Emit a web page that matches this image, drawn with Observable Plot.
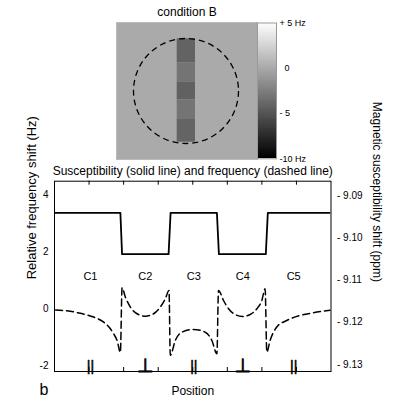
<!DOCTYPE html>
<html><head><meta charset="utf-8">
<script src="https://cdn.jsdelivr.net/npm/d3@7"></script>
<script src="https://cdn.jsdelivr.net/npm/@observablehq/plot@0.6"></script>
<style>
body{margin:0;background:#fff;}
#wrap{position:relative;width:396px;height:398px;overflow:hidden;}
#wrap > div{position:absolute;left:0;}
</style></head><body>
<div id="wrap"><div id="top" style="top:0"></div><div id="cb" style="top:0"></div><div id="bottom" style="top:160px"></div></div>
<script>
// ---------- data: top panel (frequency map, condition B) ----------
const mapTitle = "condition B";
const fovX = [0, 141];            // image extent (image units)
const fovY = [0, 137];
const backgroundHz = [0];
const stripX = [60.7, 79];        // compartment strip
const stripBounds = [16.3, 40.3, 59.7, 77.3, 96.3, 119.7];
const stripHz = [-4.2, -3.2, -4.3, -3.2, -4.1];
const phantomCenterX = [69.5];
const phantomCenterY = [68.5];
const phantomRadius = 52.5;
const colorbarDomain = [-10, 5];
const colorbarTicks = [5, 0, -5, -10];
const colorbarLabels = ["+ 5 Hz", "\u00a0\u00a00", "- 5", "-10 Hz"];

// ---------- data: bottom panel ----------
const chartTitle = "Susceptibility (solid line) and frequency (dashed line)";
const yLabel = "Relative frequency shift (Hz)";
const y2Label = "Magnetic susceptibility shift (ppm)";
const xLabel = "Position";
const panelLetter = "b";
const compartments = ["C1", "C2", "C3", "C4", "C5"];
const compartmentX = [1.04, 2.63, 4.03, 5.45, 6.92];
const orientation = ["||", "\u22A5", "||", "\u22A5", "||"];
const hzTicks = [-2, 0, 2, 4];
const ppmTicks = [-9.09, -9.10, -9.11, -9.12, -9.13];
const positionTicks = [1, 2, 3, 4, 5, 6, 7];

const suscX   = [0.01, 1.906, 1.955, 3.301, 3.359, 4.699, 4.757, 6.114, 6.172, 7.96];
const suscPpm = [-9.0941, -9.0941, -9.1039, -9.1039, -9.0941, -9.0941, -9.1039, -9.1039, -9.0941, -9.0941];

const freqX  = [0.03, 0.46, 0.75, 1.135, 1.424, 1.617, 1.713, 1.811, 1.906,
                1.955, 2.05, 2.195, 2.388, 2.628, 2.868, 3.061, 3.206, 3.313,
                3.35, 3.495, 3.688, 4.023, 4.361, 4.554, 4.699,
                4.745, 4.89, 5.035, 5.228, 5.44, 5.66, 5.855, 5.998, 6.094,
                6.143, 6.238, 6.43, 6.72, 7.105, 7.49, 7.97];
const freqHz = [-0.03, -0.08, -0.15, -0.28, -0.46, -0.69, -0.87, -1.10, -1.52,
                0.745, 0.42, 0.07, -0.165, -0.25, -0.165, 0.07, 0.36, 0.65,
                -1.62, -1.10, -0.81, -0.715, -0.81, -1.10, -1.565,
                0.65, 0.30, 0.01, -0.19, -0.26, -0.19, 0.01, 0.30, 0.71,
                -1.51, -1.10, -0.63, -0.40, -0.22, -0.13, -0.04];

const font = "'Liberation Sans', Arial, sans-serif";
const gray = {type: "linear", domain: colorbarDomain, range: ["#000000", "#ffffff"]};

// right axis alignment: ppm -> Hz coordinates
const toHz = ppm => 3.9755 + (ppm + 9.09) * 147.89;

// ---------- top: map ----------
const topW = 396, topH = 160, topML = 116, topMR = 139;
const pxPerUnit = (topW - topML - topMR) / (fovX[1] - fovX[0]);
const strip = stripHz.map((v, i) => ({x1: stripX[0], x2: stripX[1], y1: stripBounds[i], y2: stripBounds[i + 1], v}));
const topPlot = Plot.plot({
  width: topW, height: topH,
  marginLeft: topML, marginRight: topMR, marginTop: 22, marginBottom: 1,
  x: {domain: fovX, axis: null},
  y: {domain: fovY, reverse: true, axis: null},
  color: gray,
  style: {fontFamily: font, background: "transparent", overflow: "visible"},
  marks: [
    Plot.rect(backgroundHz, {x1: fovX[0], x2: fovX[1], y1: fovY[0], y2: fovY[1], fill: d => d}),
    Plot.rect(strip, {x1: "x1", x2: "x2", y1: "y1", y2: "y2", fill: "v"}),
    Plot.dot(phantomCenterX.map((x, i) => ({x, y: phantomCenterY[i]})),
      {x: "x", y: "y", r: phantomRadius * pxPerUnit, fill: "none", stroke: "#000", strokeWidth: 1.3, strokeDasharray: "6,4"}),
    Plot.frame({stroke: "#bbb"}),
    Plot.text([mapTitle], {frameAnchor: "top", lineAnchor: "middle", dy: -10, fontSize: 12})
  ]
});
document.getElementById("top").append(topPlot);

// ---------- colorbar ----------
const cbSteps = d3.range(colorbarDomain[0], colorbarDomain[1], 0.1);
const cbPlot = Plot.plot({
  width: 396, height: 160,
  marginLeft: 257, marginRight: 120, marginTop: 22.5, marginBottom: 1.7,
  x: {domain: [0, 1], axis: null},
  y: {domain: colorbarDomain, axis: null},
  color: gray,
  style: {fontFamily: font, background: "transparent", overflow: "visible"},
  marks: [
    Plot.rect(cbSteps, {x1: 0, x2: 1, y1: d => d, y2: d => Math.min(d + 0.12, colorbarDomain[1]), fill: d => d, shapeRendering: "crispEdges"}),
    Plot.frame({stroke: "#999"}),
    Plot.text(colorbarTicks, {x: 1, y: d => d, text: (d, i) => colorbarLabels[i], textAnchor: "start", dx: 3, fontSize: 9})
  ]
});
document.getElementById("cb").append(cbPlot);

// ---------- bottom: line chart ----------
const bW = 396, bH = 238, bMT = 20.7, bMB = 27, bML = 54, bMR = 65.5;
const innerH = bH - bMT - bMB;
const susc = suscX.map((x, i) => ({x, y: toHz(suscPpm[i])}));
const freq = freqX.map((x, i) => ({x, y: freqHz[i]}));
const comp = compartments.map((c, i) => ({c, x: compartmentX[i], o: orientation[i]}));
const bottomPlot = Plot.plot({
  width: bW, height: bH,
  marginTop: bMT, marginBottom: bMB, marginLeft: bML, marginRight: bMR,
  x: {domain: [0, 8], axis: null},
  y: {domain: [-2.186, 4.476]},
  style: {fontFamily: font, background: "transparent", overflow: "visible"},
  marks: [
    Plot.frame({stroke: "#000", strokeWidth: 1}),
    Plot.tickX(positionTicks, {x: d => d, insetBottom: innerH - 4, stroke: "#000"}),
    Plot.tickX(positionTicks, {x: d => d, insetTop: innerH - 4, stroke: "#000"}),
    Plot.axisY(hzTicks, {anchor: "left", tickSize: 0, tickPadding: 6, tickFormat: d => String(d), fontSize: 10, label: null}),
    Plot.axisY(ppmTicks.map(toHz), {anchor: "right", tickSize: 0, tickPadding: 6, fontSize: 10, label: null,
      tickFormat: d => "- " + Math.abs((d - 3.9755) / 147.89 - 9.09).toFixed(2)}),
    Plot.line(susc, {x: "x", y: "y", stroke: "#000", strokeWidth: 1.8}),
    Plot.line(freq, {x: "x", y: "y", curve: "monotone-x", stroke: "#000", strokeWidth: 1.5, strokeDasharray: "7,4"}),
    Plot.text(comp, {x: "x", y: 1.13, text: "c", fontSize: 11}),
    Plot.text(comp.filter(d => d.o === "||"), {x: "x", y: -2, text: "o", dy: 0.5, fontSize: 14, fill: "#000", stroke: "#000", strokeWidth: 0.5}),
    Plot.text(comp.filter(d => d.o !== "||"), {x: "x", y: -2, text: "o", dy: 0, fontSize: 19, fill: "#000", stroke: "#000", strokeWidth: 0.8, fontFamily: "'DejaVu Sans'"}),
    Plot.text([chartTitle], {frameAnchor: "top", lineAnchor: "middle", dy: -10.5, fontSize: 12}),
    Plot.text([yLabel], {frameAnchor: "left", lineAnchor: "middle", dx: -23, dy: 3, rotate: -90, fontSize: 13}),
    Plot.text([y2Label], {frameAnchor: "right", lineAnchor: "middle", dx: 45.5, dy: 5.6, rotate: 90, fontSize: 12}),
    Plot.text([xLabel], {frameAnchor: "bottom", lineAnchor: "middle", dy: 19.5, fontSize: 12}),
    Plot.text([panelLetter], {frameAnchor: "bottom-left", lineAnchor: "middle", dx: -15, dy: 18, fontSize: 16})
  ]
});
document.getElementById("bottom").append(bottomPlot);
</script>
</body></html>
